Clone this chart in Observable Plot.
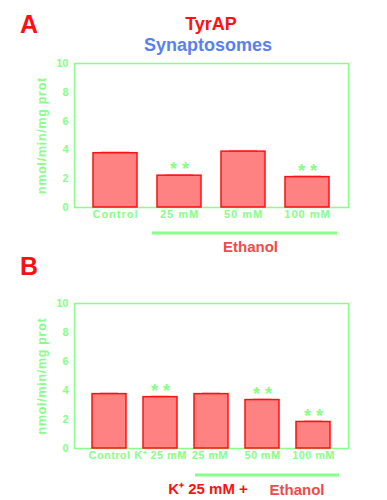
<!DOCTYPE html>
<html><head><meta charset="utf-8">
<script src="https://cdn.jsdelivr.net/npm/d3@7"></script>
<script src="https://cdn.jsdelivr.net/npm/@observablehq/plot@0.6"></script>
<style>
body{margin:0;background:#fff;font-family:"Liberation Sans",Arial,sans-serif;}
#wrap{position:relative;width:387px;height:500px;overflow:hidden;}
.abs{position:absolute;white-space:nowrap;font-weight:bold;line-height:1;}
svg{overflow:visible;}
svg text{font-family:"Liberation Sans",Arial,sans-serif;}
</style></head><body>
<div id="wrap">
  <div class="abs" style="left:20px;top:12px;font-size:25px;color:#ff1010;">A</div>
  <div class="abs" style="left:0;width:422px;text-align:center;top:15px;font-size:18px;color:#ff1010;">TyrAP</div>
  <div class="abs" style="left:0;width:416px;text-align:center;top:36px;font-size:18px;color:#5a7ff0;">Synaptosomes</div>
  <div class="abs" style="left:20px;top:254px;font-size:25px;color:#ff1010;">B</div>
  <div id="pa" style="position:absolute;left:0;top:0;"></div>
  <div id="pb" style="position:absolute;left:0;top:250px;"></div>
</div>
<script>
const green = "#88ff88";
const catsA = ["Control", "25 mM", "50 mM", "100 mM"];
const valsA = [3.77, 2.21, 3.88, 2.11];
const errA = [0.07, 0.06, 0.07, 0.06];
const sigA = ["", "* *", "", "* *"];

const catsB = ["Control", "K⁺ 25 mM", "25 mM ", "50 mM", "100 mM"];
const valsB = [3.75, 3.54, 3.75, 3.34, 1.83];
const errB = [0.06, 0.06, 0.06, 0.06, 0.06];
const sigB = ["", "* *", "", "* *", "* *"];
const yTicks = [0, 2, 4, 6, 8, 10];

function panel(cats, vals, errs, sigs, opts) {
  const data = cats.map((c, i) => ({c, v: vals[i], e: vals[i] + errs[i], s: sigs[i]}));
  return Plot.plot({
    width: 387, height: 250,
    marginLeft: 74, marginRight: 39, marginTop: opts.mt, marginBottom: opts.mb,
    style: {background: "transparent", fontSize: "11px", fontWeight: "bold", color: green, overflow: "visible"},
    x: {domain: cats, paddingInner: opts.pi, paddingOuter: opts.po, label: null, tickSize: 0, tickPadding: 3},
    y: {domain: [0, 10], ticks: yTicks, tickFormat: d => d, label: "nmol/min/mg prot", labelAnchor: "center", labelOffset: 37, labelArrow: "none", tickSize: 0, tickPadding: 6},
    marks: [
      Plot.frame({stroke: green, strokeWidth: 1.5}),
      Plot.tickY(data, {x: "c", y: "e", stroke: "#ff9999", strokeWidth: 1.5, inset: 8}),
      Plot.barY(data, {x: "c", y: "v", fill: "#ff8282", stroke: "#ff1010", strokeWidth: 1.5}),
      Plot.text(data, {x: "c", y: "v", text: "s", dy: -6, fill: green, fontSize: 18, fontWeight: "bold"})
    ]
  });
}

function styleSvg(p, ls) {
  const svg = d3.select(p);
  svg.selectAll("g[aria-label='x-axis tick label'] text").attr("letter-spacing", ls);
  svg.selectAll("g[aria-label='y-axis tick label'] text").attr("font-size", 11);
  svg.selectAll("g[aria-label='y-axis label'] text").attr("font-size", 12.5).attr("letter-spacing", "0.7px");
  return svg;
}

const pa = panel(catsA, valsA, errA, sigA, {mt: 63, mb: 43, pi: 0.32, po: 0.28});
document.getElementById("pa").appendChild(pa);
{
  const svg = styleSvg(pa, "1px");
  const x = pa.scale("x");
  const x1 = x.apply("25 mM") - 5, x2 = x.apply("100 mM") + x.bandwidth + 8;
  svg.append("line").attr("x1", x1).attr("x2", x2).attr("y1", 233).attr("y2", 233).attr("stroke", green).attr("stroke-width", 3);
  svg.append("text").attr("x", (x1 + x2) / 2 + 6).attr("y", 252).attr("text-anchor", "middle")
    .attr("font-size", 15).attr("font-weight", "bold").attr("fill", "#f24a4a").text("Ethanol");
}

const pb = panel(catsB, valsB, errB, sigB, {mt: 53, mb: 52, pi: 0.325, po: 0.3});
document.getElementById("pb").appendChild(pb);
{
  const svg = styleSvg(pb, "0.4px");
  const x = pb.scale("x");
  const x1 = x.apply("25 mM ") + 1, x2 = x.apply("100 mM") + x.bandwidth + 9;
  svg.append("line").attr("x1", x1).attr("x2", x2).attr("y1", 225).attr("y2", 225).attr("stroke", green).attr("stroke-width", 3);
  svg.append("text").attr("x", 208).attr("y", 244).attr("font-size", 15).attr("font-weight", "bold").attr("fill", "#ff1010").text("K⁺ 25 mM +");
  svg.append("text").attr("x", 297).attr("y", 245).attr("font-size", 15).attr("font-weight", "bold").attr("fill", "#f24a4a").text("Ethanol");
}
</script>
</body></html>
